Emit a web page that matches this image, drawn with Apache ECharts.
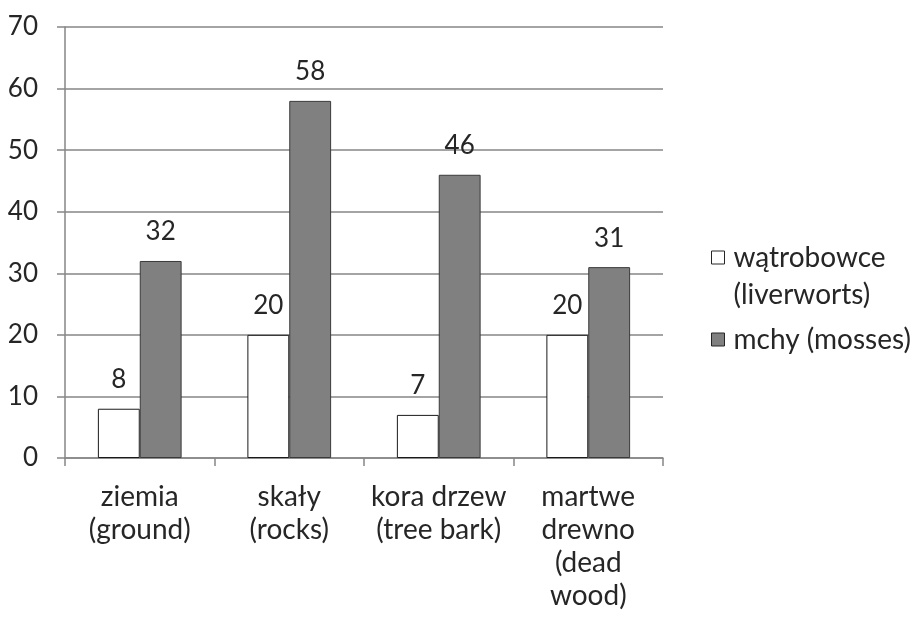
<!DOCTYPE html>
<html>
<head>
<meta charset="utf-8">
<style>
  html, body { margin: 0; padding: 0; background: #ffffff; }
  #chart { width: 918px; height: 620px; }
</style>
<script src="https://cdn.jsdelivr.net/npm/echarts@6/dist/echarts.min.js"></script>
</head>
<body>
<div id="chart"></div>
<script>
// Habitat categories (Polish with English in brackets)
const categories = [
  'ziemia\n(ground)',
  'skały\n(rocks)',
  'kora drzew\n(tree bark)',
  'martwe\ndrewno\n(dead\nwood)'
];
// Number of species per habitat
const liverworts = [8, 20, 7, 20];
const mosses = [32, 58, 46, 31];
const seriesNames = ['wątrobowce\n(liverworts)', 'mchy (mosses)'];
const yTicks = { min: 0, max: 70, interval: 10 };

const FONT = 'Lato, "Open Sans", sans-serif';
const TEXT = '#262626';
const GRID = '#868686';
const TEXT_SIZE = 28;
const NUM_SIZE = 26;

const chart = echarts.init(document.getElementById('chart'), null, { renderer: 'canvas' });

// Legend text: a leading blank line keeps the marker level with the first text line
function legendText(name) {
  const lines = name.split('\n').map(l => '{t|' + l + '}');
  return (lines.length > 1 ? '{t|}\n' : '') + lines.join('\n');
}

chart.setOption({
  animation: false,
  backgroundColor: '#ffffff',
  textStyle: { fontFamily: FONT },
  grid: { left: 65, right: 255, top: 27, bottom: 162, containLabel: false },
  legend: {
    orient: 'vertical',
    left: 706,
    top: 197,
    itemWidth: 13,
    itemHeight: 13,
    itemGap: 8,
    icon: 'rect',
    itemStyle: { borderWidth: 1, borderColor: '#262626' },
    formatter: legendText,
    textStyle: {
      fontFamily: FONT, fontSize: TEXT_SIZE, color: TEXT, lineHeight: 37,
      rich: {
        t: { fontFamily: FONT, fontSize: TEXT_SIZE, color: TEXT, lineHeight: 37, padding: [0, 0, 0, 4] }
      }
    },
    data: seriesNames
  },
  xAxis: {
    type: 'category',
    data: categories,
    axisLine: { lineStyle: { color: GRID, width: 1.5 } },
    axisTick: { show: true, length: 8, lineStyle: { color: GRID, width: 1.5 } },
    axisLabel: {
      color: TEXT, fontSize: TEXT_SIZE, fontFamily: FONT, lineHeight: 33, margin: 22, interval: 0
    }
  },
  yAxis: {
    type: 'value',
    min: yTicks.min,
    max: yTicks.max,
    interval: yTicks.interval,
    axisLine: { show: true, lineStyle: { color: GRID, width: 1.5 } },
    axisTick: { show: true, length: 8, lineStyle: { color: GRID, width: 1.5 } },
    splitLine: { lineStyle: { color: GRID, width: 1.5 } },
    axisLabel: { color: TEXT, fontSize: NUM_SIZE, fontFamily: FONT, margin: 27 }
  },
  series: [
    {
      name: seriesNames[0],
      type: 'bar',
      data: liverworts,
      barGap: '0%',
      barCategoryGap: '44%',
      itemStyle: { color: '#ffffff', borderColor: '#1a1a1a', borderWidth: 1 },
      label: {
        show: true, position: 'top', distance: 16,
        color: TEXT, fontSize: NUM_SIZE, fontFamily: FONT
      }
    },
    {
      name: seriesNames[1],
      type: 'bar',
      data: mosses,
      barGap: '0%',
      barCategoryGap: '44%',
      itemStyle: { color: '#808080', borderColor: '#3a3a3a', borderWidth: 1 },
      label: {
        show: true, position: 'top', distance: 16,
        color: TEXT, fontSize: NUM_SIZE, fontFamily: FONT
      }
    }
  ]
});
</script>
</body>
</html>
